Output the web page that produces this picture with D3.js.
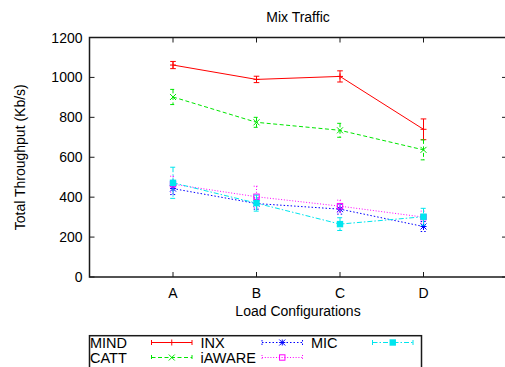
<!DOCTYPE html>
<html>
<head>
<meta charset="utf-8">
<script src="https://cdn.jsdelivr.net/npm/d3@7"></script>
<style>
  html, body { margin: 0; padding: 0; background: #fff; overflow: hidden; }
  svg { display: block; font-family: "Liberation Sans", Arial, Helvetica, sans-serif; }
</style>
</head>
<body>
<svg id="chart" width="505" height="367"></svg>
<script>
// Load configurations along the x axis
const categories = ["A", "B", "C", "D"];

// Total throughput (Kb/s) and error half-widths per scheme
const mindValues   = [1062, 990, 1005, 740];
const mindErrors   = [18, 16, 28, 52];
const cattValues   = [902, 775, 735, 637];
const cattErrors   = [38, 25, 35, 50];
const inxValues    = [443, 368, 340, 253];
const inxErrors    = [30, 28, 25, 25];
const iawareValues = [465, 402, 355, 300];
const iawareErrors = [40, 53, 30, 30];
const micValues    = [472, 370, 265, 302];
const micErrors    = [78, 40, 32, 42];

const yTicks = [0, 200, 400, 600, 800, 1000, 1200];

const series = [
  { name: "MIND",   values: mindValues,   errors: mindErrors,   color: "#ff0000", dash: null,        symbol: "plus" },
  { name: "CATT",   values: cattValues,   errors: cattErrors,   color: "#00e600", dash: "4,2.5",     symbol: "cross" },
  { name: "INX",    values: inxValues,    errors: inxErrors,    color: "#0000ff", dash: "1.5,2",     symbol: "star" },
  { name: "iAWARE", values: iawareValues, errors: iawareErrors, color: "#ff00ff", dash: "1,1.8",     symbol: "box" },
  { name: "MIC",    values: micValues,    errors: micErrors,    color: "#00e5ee", dash: "5,2,1.5,2", symbol: "fbox" }
];

const svg = d3.select("#chart");
const plotL = 89.5, plotR = 507, plotT = 37.5, plotB = 277;

// Categories sit at 1..4 on a 0..5 axis
const x = d3.scaleLinear().domain([0, 5]).range([plotL, plotR]);
const y = d3.scaleLinear().domain([0, 1200]).range([plotB, plotT]);
const xi = i => x(i + 1);

const tickLen = 5;
const axisColor = "#1a1a1a";

// Title
svg.append("text").attr("x", 298).attr("y", 22).attr("text-anchor", "middle")
  .attr("font-size", 14).text("Mix Traffic");

// Y tick labels and ticks (left, mirrored right)
const yg = svg.append("g");
yTicks.forEach(t => {
  yg.append("text").attr("x", 82.5).attr("y", y(t)).attr("dy", "0.36em")
    .attr("text-anchor", "end").attr("font-size", 14).text(t);
  yg.append("line").attr("x1", plotL).attr("x2", plotL + tickLen)
    .attr("y1", y(t)).attr("y2", y(t)).attr("stroke", axisColor).attr("stroke-width", 1);
  yg.append("line").attr("x1", plotR).attr("x2", plotR - tickLen)
    .attr("y1", y(t)).attr("y2", y(t)).attr("stroke", axisColor).attr("stroke-width", 1);
});

// X tick labels and ticks (bottom, mirrored top)
const xg = svg.append("g");
categories.forEach((c, i) => {
  xg.append("text").attr("x", xi(i)).attr("y", 298).attr("text-anchor", "middle")
    .attr("font-size", 14).text(c);
  xg.append("line").attr("x1", xi(i)).attr("x2", xi(i))
    .attr("y1", plotB).attr("y2", plotB - tickLen).attr("stroke", axisColor).attr("stroke-width", 1);
  xg.append("line").attr("x1", xi(i)).attr("x2", xi(i))
    .attr("y1", plotT).attr("y2", plotT + tickLen).attr("stroke", axisColor).attr("stroke-width", 1);
});

// Axis titles
svg.append("text").attr("x", 298).attr("y", 316).attr("text-anchor", "middle")
  .attr("font-size", 14).text("Load Configurations");
svg.append("text").attr("transform", `translate(25,${(plotT + plotB) / 2}) rotate(-90)`)
  .attr("text-anchor", "middle").attr("font-size", 14).text("Total Throughput (Kb/s)");

// Point symbols
function drawSymbol(g, kind, cx, cy, color) {
  const s = 3;
  if (kind === "plus") {
    g.append("path").attr("d", `M${cx - s},${cy}H${cx + s}M${cx},${cy - s}V${cy + s}`)
      .attr("stroke", color).attr("stroke-width", 1).attr("fill", "none");
  } else if (kind === "cross") {
    g.append("path").attr("d", `M${cx - s},${cy - s}L${cx + s},${cy + s}M${cx - s},${cy + s}L${cx + s},${cy - s}`)
      .attr("stroke", color).attr("stroke-width", 1).attr("fill", "none");
  } else if (kind === "star") {
    g.append("path").attr("d", `M${cx - s},${cy}H${cx + s}M${cx},${cy - s}V${cy + s}M${cx - s},${cy - s}L${cx + s},${cy + s}M${cx - s},${cy + s}L${cx + s},${cy - s}`)
      .attr("stroke", color).attr("stroke-width", 1).attr("fill", "none");
  } else if (kind === "box") {
    g.append("rect").attr("x", cx - 2.7).attr("y", cy - 2.7).attr("width", 5.4).attr("height", 5.4)
      .attr("stroke", color).attr("stroke-width", 1).attr("fill", "none");
  } else if (kind === "fbox") {
    g.append("rect").attr("x", cx - 3.2).attr("y", cy - 3.2).attr("width", 6.4).attr("height", 6.4)
      .attr("fill", color);
  }
}

// Series: lines, error bars, points
const line = d3.line().x((d, i) => xi(i)).y(d => y(d));
const capW = 2.8;
series.forEach(s => {
  const g = svg.append("g");
  g.append("path").datum(s.values).attr("d", line)
    .attr("fill", "none").attr("stroke", s.color).attr("stroke-width", 1)
    .attr("stroke-dasharray", s.dash);
  s.values.forEach((v, i) => {
    const cx = xi(i), y1 = y(v + s.errors[i]), y0 = y(v - s.errors[i]);
    const d = `M${cx},${y1}V${y0}M${cx - capW},${y1}H${cx + capW}M${cx - capW},${y0}H${cx + capW}`;
    g.append("path").attr("d", d).attr("fill", "none").attr("stroke", s.color)
      .attr("stroke-width", 1).attr("stroke-dasharray", s.dash);
    drawSymbol(g, s.symbol, cx, y(v), s.color);
  });
});

// Plot frame
svg.append("rect").attr("x", plotL).attr("y", plotT).attr("width", plotR - plotL).attr("height", plotB - plotT)
  .attr("fill", "none").attr("stroke", axisColor).attr("stroke-width", 1.5);

// Legend
const legendOrder = ["MIND", "INX", "MIC", "CATT", "iAWARE"];
const colX = [90, 200.5, 311];
const rowY = [348, 363];
const lg = svg.append("g");
lg.append("rect").attr("x", 89.5).attr("y", 335.7).attr("width", 332).attr("height", 40)
  .attr("fill", "#fff").attr("stroke", axisColor).attr("stroke-width", 1.5);
legendOrder.forEach((name, k) => {
  const s = series.find(d => d.name === name);
  const tx = colX[k % 3], ty = rowY[Math.floor(k / 3)];
  lg.append("text").attr("x", tx).attr("y", ty).attr("font-size", 14.5).text(name);
  const x0 = tx + 61.5, x1 = x0 + 40.5, ly = ty - 5.5;
  const d = `M${x0},${ly}H${x1}M${x0},${ly - 2.5}V${ly + 2.5}M${x1},${ly - 2.5}V${ly + 2.5}`;
  lg.append("path").attr("d", d).attr("fill", "none").attr("stroke", s.color)
    .attr("stroke-width", 1).attr("stroke-dasharray", s.dash);
  drawSymbol(lg, s.symbol, (x0 + x1) / 2, ly, s.color);
});
</script>
</body>
</html>
